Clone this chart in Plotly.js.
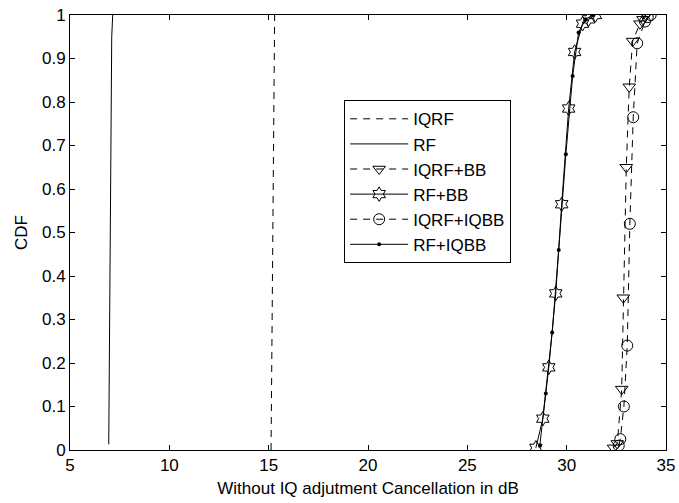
<!DOCTYPE html>
<html>
<head>
<meta charset="utf-8">
<script src="https://cdn.plot.ly/plotly-3.0.1.min.js"></script>
<style>html,body{margin:0;padding:0;background:#fff;}#chart{width:679px;height:503px;}</style>
</head>
<body>
<div id="chart"></div>
<script>
// Series data (x = cancellation in dB, y = CDF)
const iqrfX = [15.12, 15.2, 15.3];
const iqrfY = [0.0, 0.5, 1.0];

const rfX = [6.95, 6.98, 7.01, 7.05, 7.1, 7.15];
const rfY = [0.013, 0.2, 0.5, 0.8, 0.95, 1.0];

const iqrfBbX = [32.36, 32.55, 32.77, 32.85, 33.0, 33.15, 33.32, 33.69, 33.84, 33.99];
const iqrfBbY = [0.005, 0.015, 0.14, 0.35, 0.65, 0.835, 0.94, 0.98, 0.99, 1.0];

const rfBbX = [28.45, 28.8, 29.1, 29.45, 29.75, 30.1, 30.4, 30.8, 31.1, 31.45];
const rfBbY = [0.005, 0.072, 0.19, 0.36, 0.565, 0.785, 0.915, 0.98, 0.99, 1.0];

const iqrfIqbbX = [32.62, 32.7, 32.88, 33.05, 33.18, 33.35, 33.55, 33.94, 34.08, 34.23];
const iqrfIqbbY = [0.01, 0.025, 0.1, 0.24, 0.52, 0.765, 0.935, 0.985, 0.995, 1.0];

const rfIqbbX = [28.65, 28.95, 29.27, 29.6, 29.96, 30.3, 30.6, 30.95, 31.3];
const rfIqbbY = [0.01, 0.13, 0.27, 0.46, 0.68, 0.86, 0.96, 0.99, 1.0];

const xTicks = [5, 10, 15, 20, 25, 30, 35];
const yTicks = [0, 0.1, 0.2, 0.3, 0.4, 0.5, 0.6, 0.7, 0.8, 0.9, 1];
const yTickText = ['0', '0.1', '0.2', '0.3', '0.4', '0.5', '0.6', '0.7', '0.8', '0.9', '1'];

const FONT = 'Liberation Sans, Arial, Helvetica, sans-serif';
const FS = 17;
const DASH = '7px,6px';
const mline = {color: 'black', width: 1};

const traces = [
  {x: iqrfX, y: iqrfY, name: 'IQRF', mode: 'lines', line: {color: 'black', width: 1, dash: DASH}},
  {x: rfX, y: rfY, name: 'RF', mode: 'lines', line: {color: 'black', width: 1}},
  {x: iqrfBbX, y: iqrfBbY, name: 'IQRF+BB', mode: 'lines+markers', line: {color: 'black', width: 1, dash: DASH},
   marker: {symbol: 'triangle-down-open', size: 11, color: 'black', line: mline}},
  {x: rfBbX, y: rfBbY, name: 'RF+BB', mode: 'lines+markers', line: {color: 'black', width: 1},
   marker: {symbol: 'hexagram-open', size: 11, color: 'black', line: mline}},
  {x: iqrfIqbbX, y: iqrfIqbbY, name: 'IQRF+IQBB', mode: 'lines+markers', line: {color: 'black', width: 1, dash: DASH},
   marker: {symbol: 'circle-open', size: 11, color: 'black', line: mline}},
  {x: rfIqbbX, y: rfIqbbY, name: 'RF+IQBB', mode: 'lines+markers', line: {color: 'black', width: 1},
   marker: {symbol: 'circle', size: 4, color: 'black'}}
];

const axisCommon = {
  showline: true, linecolor: 'black', linewidth: 1, mirror: 'ticks',
  ticks: 'inside', ticklen: 5, tickwidth: 1, tickcolor: 'black',
  showgrid: false, zeroline: false,
  tickfont: {family: FONT, size: FS, color: 'black'}
};

const layout = {
  width: 679, height: 503,
  margin: {l: 70, r: 13, t: 15, b: 53},
  paper_bgcolor: 'white', plot_bgcolor: 'white',
  font: {family: FONT, size: FS, color: 'black'},
  showlegend: true,
  legend: {
    x: 0.46, y: 0.804, xanchor: 'left', yanchor: 'top',
    bgcolor: 'white', bordercolor: 'black', borderwidth: 1,
    font: {family: FONT, size: FS, color: 'black'},
    itemwidth: 58, tracegroupgap: 0
  },
  xaxis: Object.assign({}, axisCommon, {
    range: [5, 35], tickvals: xTicks, ticktext: xTicks.map(String),
    title: {text: 'Without IQ adjutment Cancellation in dB', font: {family: FONT, size: FS, color: 'black'}, standoff: 7}
  }),
  yaxis: Object.assign({}, axisCommon, {
    range: [0, 1], tickvals: yTicks, ticktext: yTickText,
    title: {text: 'CDF', font: {family: FONT, size: FS, color: 'black'}, standoff: 10}
  })
};

Plotly.newPlot('chart', traces, layout, {displayModeBar: false, staticPlot: true});
</script>
</body>
</html>
